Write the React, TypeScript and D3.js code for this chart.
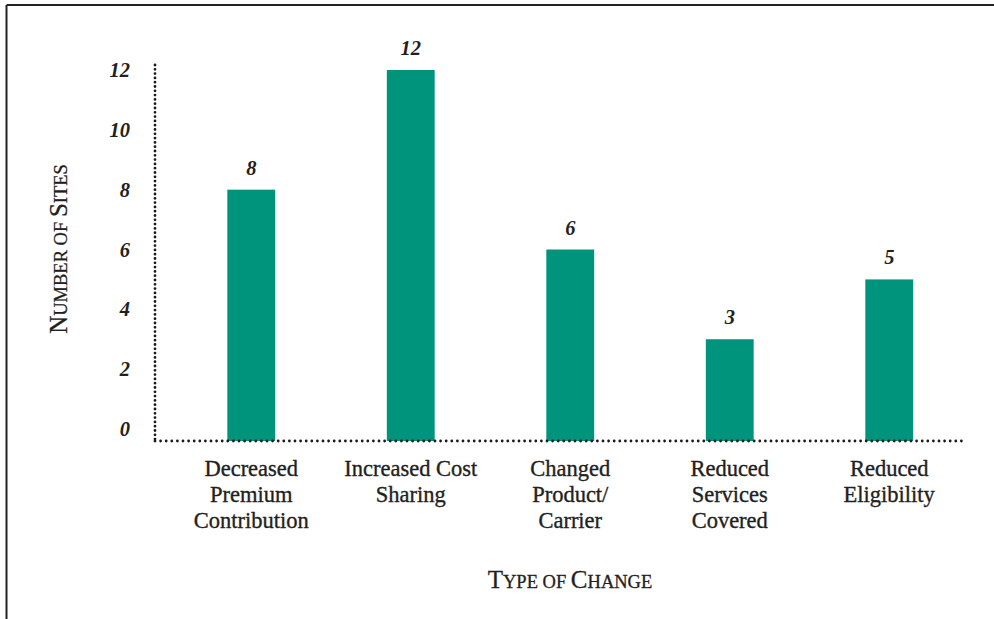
import React from "react";
import * as d3 from "d3";

const categories: string[][] = [
  ["Decreased", "Premium", "Contribution"],
  ["Increased Cost", "Sharing"],
  ["Changed", "Product/", "Carrier"],
  ["Reduced", "Services", "Covered"],
  ["Reduced", "Eligibility"],
];
const values: number[] = [8, 12, 6, 3, 5];
const yTicks: number[] = [0, 2, 4, 6, 8, 10, 12];

const W = 994;
const H = 619;
const SERIF = "'Liberation Serif', 'DejaVu Serif', serif";
const TEXT = "#231f20";
const BAR = "#00947c";

export default function App() {
  const keys = categories.map((c) => c.join(" "));
  const x = d3.scaleBand<string>().domain(keys).range([171.5, 969]).paddingInner(0.7).paddingOuter(0.35);
  const y = d3.scaleLinear().domain([0, 12]).range([429, 70]);
  const axisX0 = 155;
  const axisX1 = 962;
  const axisY = 441;
  const axisTop = 65;

  return (
    <svg width={W} height={H} style={{ position: "absolute", left: 0, top: 0, background: "#fff" }}>
      {/* frame */}
      <line x1={6.5} y1={5} x2={W} y2={5} stroke="#222" strokeWidth={2} />
      <line x1={6.5} y1={5} x2={6.5} y2={H} stroke="#222" strokeWidth={2} />

      {/* bars */}
      {values.map((v, i) => (
        <rect key={i} x={x(keys[i])} y={y(v)} width={x.bandwidth()} height={axisY - y(v)} fill={BAR} />
      ))}

      {/* axes dotted */}
      <line x1={axisX0} y1={axisTop} x2={axisX0} y2={axisY} stroke="#1a1a1a" strokeWidth={2.8} strokeDasharray="0 4.3" strokeLinecap="round" />
      <line x1={axisX0} y1={axisY} x2={axisX1} y2={axisY} stroke="#1a1a1a" strokeWidth={2.8} strokeDasharray="0 5.6" strokeLinecap="round" />

      {/* y tick labels */}
      {yTicks.map((t) => (
        <text key={t} x={130} y={y(t) + 7} textAnchor="end" fontFamily={SERIF} fontStyle="italic" fontWeight="bold" fontSize={20.5} fill={TEXT}>
          {t}
        </text>
      ))}

      {/* value labels */}
      {values.map((v, i) => (
        <text key={i} x={(x(keys[i]) as number) + x.bandwidth() / 2} y={y(v) - 15} textAnchor="middle" fontFamily={SERIF} fontStyle="italic" fontWeight="bold" fontSize={20.5} fill={TEXT}>
          {v}
        </text>
      ))}

      {/* category labels */}
      {categories.map((lines, i) =>
        lines.map((ln, j) => (
          <text key={i + "-" + j} x={(x(keys[i]) as number) + x.bandwidth() / 2} y={476 + j * 26} textAnchor="middle" fontFamily={SERIF} fontSize={22.5} fill={TEXT} stroke={TEXT} strokeWidth={0.35}>
            {ln}
          </text>
        ))
      )}

      {/* y axis title */}
      <text transform="translate(67,249) rotate(-90)" textAnchor="middle" fontFamily={SERIF} fill={TEXT} stroke={TEXT} strokeWidth={0.3}>
        <tspan fontSize={25}>N</tspan>
        <tspan fontSize={18.5}>UMBER OF </tspan>
        <tspan fontSize={25}>S</tspan>
        <tspan fontSize={18.5}>ITES</tspan>
      </text>

      {/* x axis title */}
      <text x={570} y={588} textAnchor="middle" fontFamily={SERIF} fill={TEXT} stroke={TEXT} strokeWidth={0.3}>
        <tspan fontSize={25}>T</tspan>
        <tspan fontSize={18.5}>YPE OF </tspan>
        <tspan fontSize={25}>C</tspan>
        <tspan fontSize={18.5}>HANGE</tspan>
      </text>
    </svg>
  );
}
